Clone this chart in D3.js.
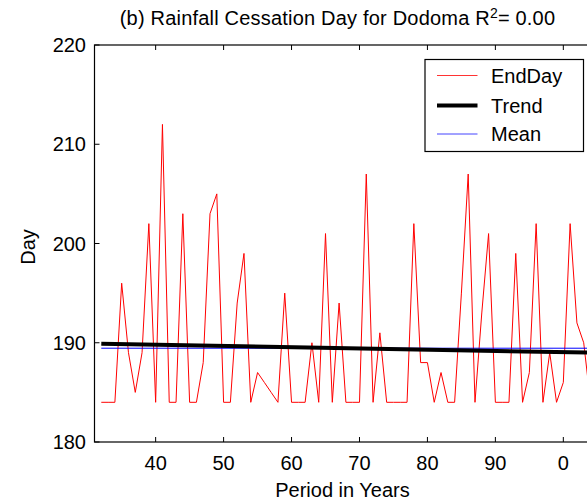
<!DOCTYPE html>
<html>
<head>
<meta charset="utf-8">
<script src="https://cdn.jsdelivr.net/npm/d3@7"></script>
<style>
  html, body { margin: 0; padding: 0; background: #fff; }
  text { font-family: "Liberation Sans", Arial, sans-serif; fill: #000; }
</style>
</head>
<body>
<svg id="chart" width="587" height="502"></svg>
<script>
// ---- data ----
const years = d3.range(1932, 2005);
const endDay = [
  184, 184, 184, 196, 189, 185, 189, 202,   // 1932-1939
  184, 212, 184, 184, 203, 184, 184, 188, 203, 205, // 1940-1949
  184, 184, 194, 199, 184, 187, 186, 185, 184, 195, // 1950-1959
  184, 184, 184, 190, 184, 201, 184, 194, 184, 184, // 1960-1969
  184, 207, 184, 191, 184, 184, 184, 184, 202, 188, // 1970-1979
  188, 184, 187, 184, 184, 195, 207, 184, 193, 201, // 1980-1989
  184, 184, 184, 199, 184, 187, 202, 184, 189, 184, // 1990-1999
  186, 202, 192, 190, 184                           // 2000-2004
];
const trendYears = [1932, 2004];
const trendValues = [189.9, 189.0];
const meanValue = 189.45;
const xTicks = [1940, 1950, 1960, 1970, 1980, 1990, 2000];
const xTickLabels = ["40", "50", "60", "70", "80", "90", "0"];
const yTicks = [180, 190, 200, 210, 220];
const legendLabels = ["EndDay", "Trend", "Mean"];
const titleText = "(b) Rainfall Cessation Day for Dodoma R";
const r2Text = "= 0.00";

// ---- layout ----
const svg = d3.select("#chart");
const L = 94.5, R = 590.5, T = 45, B = 442;
const x = d3.scaleLinear().domain([1931, 2004]).range([L, R]);
const y = d3.scaleLinear().domain([180, 220]).range([B, T]);
const FS = 20;

svg.append("defs").append("clipPath").attr("id", "clip")
  .append("rect").attr("x", L).attr("y", T).attr("width", R - L).attr("height", B - T);

const plot = svg.append("g").attr("clip-path", "url(#clip)");

// EndDay series
const line = d3.line().x((d, i) => x(years[i])).y(d => y(d));
plot.append("path").datum(endDay)
  .attr("d", line).attr("fill", "none")
  .attr("stroke", "#ff0000").attr("stroke-width", 1);

// Mean line
plot.append("line")
  .attr("x1", x(years[0])).attr("x2", x(years[years.length - 1]))
  .attr("y1", y(meanValue)).attr("y2", y(meanValue))
  .attr("stroke", "#0000ff").attr("stroke-width", 1);

// Trend line
plot.append("line")
  .attr("x1", x(trendYears[0])).attr("x2", x(trendYears[1]))
  .attr("y1", y(trendValues[0])).attr("y2", y(trendValues[1]))
  .attr("stroke", "#000").attr("stroke-width", 4);

// Axes box (right edge lies just outside the picture)
const ax = svg.append("g");
ax.append("rect").attr("x", L).attr("y", T).attr("width", R - L + 10).attr("height", B - T)
  .attr("fill", "none").attr("stroke", "#000").attr("stroke-width", 1.2);

// ticks (inward) bottom & top
const tl = 5;
xTicks.forEach((t, i) => {
  ax.append("line").attr("x1", x(t)).attr("x2", x(t)).attr("y1", B).attr("y2", B - tl)
    .attr("stroke", "#000").attr("stroke-width", 1);
  ax.append("line").attr("x1", x(t)).attr("x2", x(t)).attr("y1", T).attr("y2", T + tl)
    .attr("stroke", "#000").attr("stroke-width", 1);
  ax.append("text").attr("x", x(t)).attr("y", 469.5)
    .attr("text-anchor", "middle").attr("font-size", FS).text(xTickLabels[i]);
});
yTicks.forEach(t => {
  ax.append("line").attr("x1", L).attr("x2", L + tl).attr("y1", y(t)).attr("y2", y(t))
    .attr("stroke", "#000").attr("stroke-width", 1);
  ax.append("text").attr("x", 86).attr("y", y(t) + 7.2)
    .attr("text-anchor", "end").attr("font-size", FS).text(String(t));
});

// axis labels
svg.append("text").attr("x", 342.5).attr("y", 497)
  .attr("text-anchor", "middle").attr("font-size", FS).text("Period in Years");
svg.append("text").attr("transform", `translate(35,247) rotate(-90)`)
  .attr("text-anchor", "middle").attr("font-size", FS).text("Day");

// title
const title = svg.append("text").attr("x", 337.5).attr("y", 25)
  .attr("text-anchor", "middle").attr("font-size", FS).attr("letter-spacing", 0.2);
title.append("tspan").text(titleText);
title.append("tspan").attr("font-size", 14).attr("dy", -7).text("2");
title.append("tspan").attr("dy", 7).text(r2Text);

// legend
const lg = svg.append("g");
lg.append("rect").attr("x", 425).attr("y", 59.5).attr("width", 158.5).attr("height", 92)
  .attr("fill", "#fff").attr("stroke", "#000").attr("stroke-width", 1.2);
const legendStyles = [
  { color: "#ff3333", width: 1 },
  { color: "#000", width: 4 },
  { color: "#4444ff", width: 1 }
];
const rowY = [75.5, 105.5, 134];
legendLabels.forEach((lab, i) => {
  lg.append("line").attr("x1", 437).attr("x2", 477.5).attr("y1", rowY[i]).attr("y2", rowY[i])
    .attr("stroke", legendStyles[i].color).attr("stroke-width", legendStyles[i].width);
  lg.append("text").attr("x", 491).attr("y", rowY[i] + 7.2).attr("font-size", FS).text(lab);
});
</script>
</body>
</html>
